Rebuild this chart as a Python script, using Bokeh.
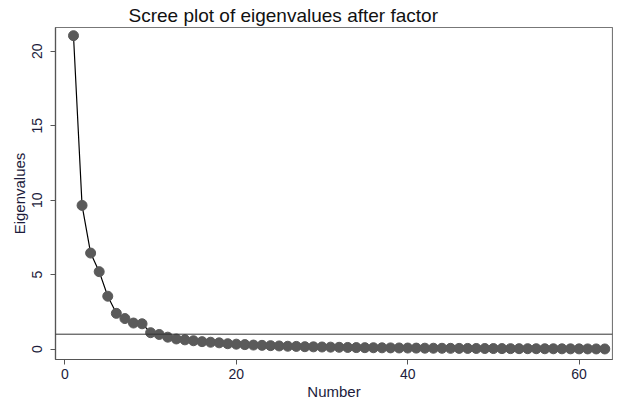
from bokeh.plotting import figure
from bokeh.models import Range1d, Span, FixedTicker, Title
from bokeh.embed import file_html
from bokeh.resources import INLINE

numbers = list(range(1, 64))
eigenvalues = [
    21.05, 9.65, 6.45, 5.20, 3.55, 2.40, 2.05, 1.75, 1.70, 1.10,
    0.98, 0.80, 0.68, 0.62, 0.56, 0.50, 0.46, 0.42, 0.36, 0.33,
    0.30, 0.27, 0.25, 0.23, 0.21, 0.19, 0.18, 0.16, 0.15, 0.14,
    0.13, 0.12, 0.11, 0.10, 0.095, 0.09, 0.085, 0.08, 0.075, 0.07,
    0.065, 0.06, 0.057, 0.054, 0.05, 0.047, 0.044, 0.041, 0.038, 0.035,
    0.032, 0.03, 0.028, 0.026, 0.024, 0.022, 0.02, 0.018, 0.016, 0.014,
    0.012, 0.01, 0.008,
]
x_ticks = [0, 20, 40, 60]
y_ticks = [0, 5, 10, 15, 20]
reference_level = 1
title_text = "Scree plot of eigenvalues after factor"

FONT = "Liberation Sans"
TEXT = "#1c1c3c"
GRAY = "#5a5a5a"

p = figure(width=613, height=402, output_backend="svg", toolbar_location=None,
           x_range=Range1d(-1.1, 63.9), y_range=Range1d(-0.7, 21.6),
           min_border_left=55, min_border_right=1, min_border_top=4, min_border_bottom=2)

t = Title(text=title_text, align="left", offset=73, text_font=FONT,
          text_font_size="19px", text_font_style="normal", text_color="#111111",
          standoff=4)
p.add_layout(t, "above")

p.line(numbers, eigenvalues, line_color="black", line_width=1.2)
p.scatter(numbers, eigenvalues, size=10, fill_color=GRAY, line_color=GRAY)

p.add_layout(Span(location=reference_level, dimension="width",
                  line_color="#333333", line_width=1))

p.grid.visible = False
p.outline_line_color = "#777777"
p.outline_line_width = 1.2

for ax in (p.xaxis[0], p.yaxis[0]):
    ax.axis_line_color = "#555555"
    ax.axis_line_width = 1.2
    ax.major_tick_line_color = "#555555"
    ax.major_tick_out = 5
    ax.major_tick_in = 0
    ax.minor_tick_line_color = None
    ax.major_label_text_font = FONT
    ax.major_label_text_font_size = "14px"
    ax.major_label_text_color = TEXT
    ax.axis_label_text_font = FONT
    ax.axis_label_text_font_size = "15px"
    ax.axis_label_text_font_style = "normal"
    ax.axis_label_text_color = TEXT

p.xaxis.ticker = FixedTicker(ticks=x_ticks)
p.yaxis.ticker = FixedTicker(ticks=y_ticks)
p.yaxis.major_label_orientation = "vertical"
p.xaxis.axis_label = "Number"
p.yaxis.axis_label = "Eigenvalues"
p.xaxis.axis_label_standoff = 1
p.yaxis.axis_label_standoff = 2
p.xaxis.major_label_standoff = 4
p.yaxis.major_label_standoff = 8

open("out.html", "w").write(file_html(p, INLINE))
